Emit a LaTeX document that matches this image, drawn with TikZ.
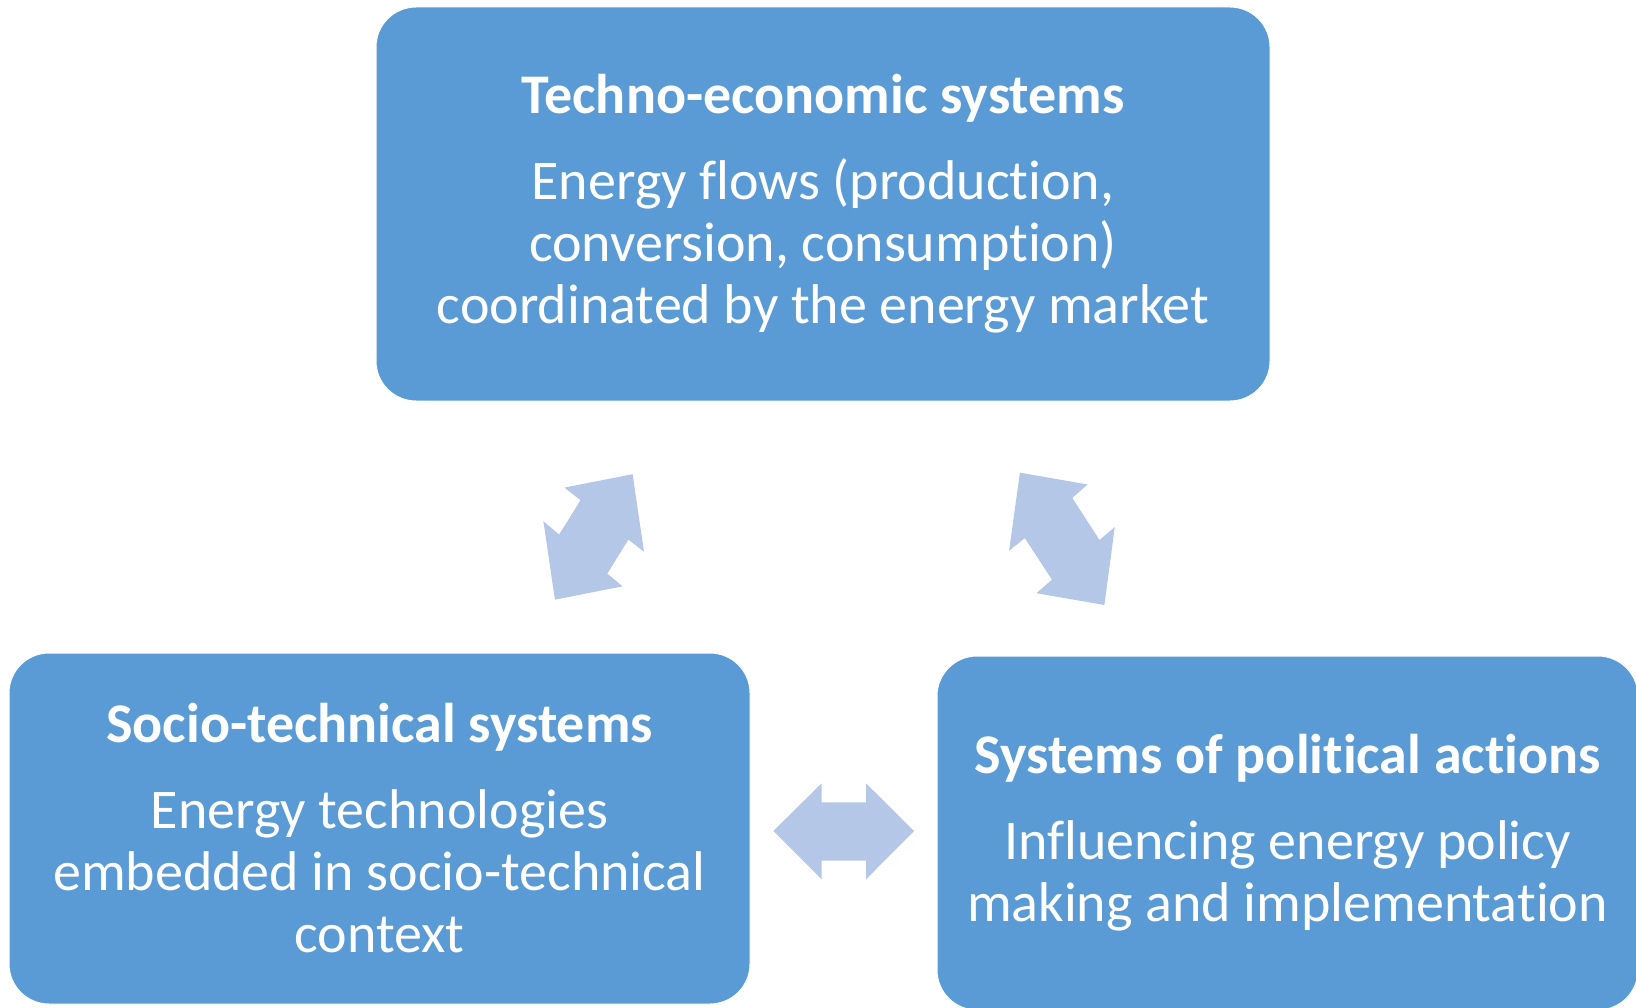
\documentclass[tikz,border=0pt]{standalone}
\usepackage{fontspec}
\setmainfont[RawFeature={-liga;-clig;-dlig}]{Carlito}
\usetikzlibrary{shapes.geometric, arrows}
\definecolor{boxblue}{HTML}{5B9BD5}
\definecolor{linkblue}{HTML}{B4C7E7}
\tikzstyle{system} = [rectangle, rounded corners=40pt, fill=boxblue, draw=white, line width=1pt, text=white, align=center, inner sep=0pt, font=\fontsize{56}{62}\selectfont]
\tikzstyle{link} = [fill=linkblue, draw=none]
\newcommand{\systitle}[1]{{\bfseries #1}\\[24pt]}

\begin{document}
\begin{tikzpicture}[x=1pt, y=-1pt]
        \useasboundingbox (0,0) rectangle (1636,1008);

        \node (TechnoEcon) [system, minimum width=894pt, minimum height=394pt] at (823,204)
              {\systitle{Techno-economic systems}Energy flows (production,\\conversion, consumption)\\coordinated by the energy market};
        \node (SocioTech) [system, minimum width=741pt, minimum height=351pt] at (379.5,828.5)
              {\systitle{Socio-technical systems}Energy technologies\\embedded in socio-technical\\context};
        \node (Political) [system, minimum width=701pt, minimum height=354pt] at (1287.5,833)
              {\systitle{Systems of political actions}Influencing energy policy\\making and implementation};

        % two-headed block arrows between the systems
        \fill [link] (632.6,474.2) -- (564.4,487.6) -- (580.5,500.2) -- (559.1,534.6) -- (543.4,521.2)
              -- (554.9,599.7) -- (622.6,586.3) -- (607.3,573.7) -- (628.4,539.6) -- (644.0,551.8) -- cycle;
        \fill [link] (1019.9,472.6) -- (1087.6,484.5) -- (1072.3,497.9) -- (1099.5,540.0) -- (1114.8,527.0)
              -- (1104.4,605.0) -- (1036.3,593.2) -- (1052.0,579.8) -- (1024.8,538.1) -- (1009.1,550.7) -- cycle;
        \fill [link] (773.3,831) -- (821.7,783.3) -- (821.7,802.3) -- (866,802.3) -- (866,783.3)
              -- (914,831) -- (866,879.3) -- (866,860.7) -- (821.7,860.7) -- (821.7,879.3) -- cycle;
\end{tikzpicture}
\end{document}
